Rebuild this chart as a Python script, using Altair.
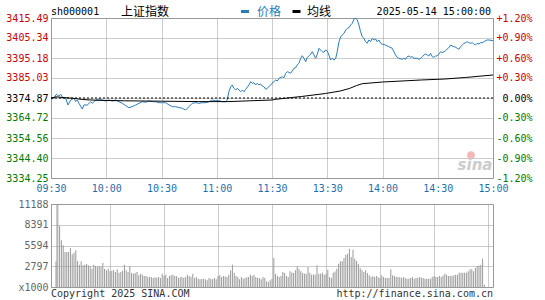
import altair as alt
import pandas as pd

BASE = 3374.87

time_labels = ["09:30", "10:00", "10:30", "11:00", "11:30", "13:30", "14:00", "14:30", "15:00"]
time_ticks = [0, 30, 60, 90, 120, 150, 180, 210, 240]
price_ticks = [3334.25, 3344.40, 3354.56, 3364.72, 3374.87, 3385.03, 3395.18, 3405.34, 3415.49]
vol_ticks = [0, 2797, 5594, 8391, 11188]

# price (minute index from 09:30, 120 = 11:30/13:00, 240 = 15:00)
price_minutes = [
    0.0, 1.6, 2.9, 4.3, 5.3, 6.5, 8.0, 9.2, 10.7, 12.5, 13.4, 14.3, 15.2, 17.0, 17.9, 19.7,
    21.6, 22.4, 24.3, 26.1, 27.9, 29.7, 31.5, 33.3, 35.1, 36.9, 38.7, 40.6, 42.3, 44.1, 46.0,
    47.8, 49.6, 51.4, 53.2, 55.0, 56.8, 58.6,
    60.4, 62.3, 64.1, 65.9, 67.7, 69.5, 71.3, 73.1, 74.9, 76.7, 78.6, 80.3, 82.1, 84.0, 85.8,
    87.6, 89.4, 91.2, 93.0, 94.8, 95.7, 96.6, 97.6, 98.4, 99.3, 100.3, 101.1, 102.1, 103.0,
    103.9, 104.8, 105.7, 107.5, 108.4, 109.3, 110.2, 111.1, 112.0, 112.9, 113.8, 114.7, 115.6,
    116.6, 117.4, 118.3, 119.3, 120.0,
    122.0, 122.9, 123.8, 125.6, 126.5, 127.4, 128.3, 129.2, 130.1, 131.0, 131.9, 132.8, 133.7,
    134.6, 135.6, 136.4, 137.4, 138.3, 139.1, 140.1, 141.0, 141.9, 142.8, 143.7, 144.6, 145.5,
    146.4, 147.3, 148.2, 149.1, 150.0, 150.9, 151.8, 152.7, 153.7, 154.6, 155.4, 156.4, 157.3,
    158.1, 159.1, 160.0, 160.9, 161.8, 162.7, 163.6, 164.5, 165.4, 166.3, 167.2, 168.1, 169.0,
    169.9, 170.8, 171.7, 172.6, 173.6, 174.4, 175.4, 176.3, 177.1, 178.1, 179.0, 179.9,
    181.7, 183.5, 185.3, 186.2, 187.1, 188.0, 188.9, 190.7, 191.6, 192.6, 193.4, 194.4, 195.3,
    196.1, 197.1, 198.9, 199.8, 200.7, 201.6, 202.5, 203.4, 204.3, 205.2, 206.1, 207.0, 207.9,
    208.8, 209.7, 210.6, 211.6, 212.4, 213.4, 214.3, 216.1, 217.0, 217.9, 218.8, 219.7, 220.6,
    221.5, 222.4, 223.3, 224.2, 225.1, 226.0, 226.9, 227.8, 228.7, 229.6, 230.5, 231.4, 232.4,
    233.3, 234.2, 235.1, 236.0, 236.9, 237.8, 240.0,
]
price_values = [
    3374.36, 3374.72, 3376.75, 3375.89, 3376.75, 3375.02, 3374.72, 3371.32, 3373.85, 3374.72,
    3372.99, 3373.85, 3372.18, 3369.28, 3371.32, 3371.32, 3372.99, 3372.18, 3373.85, 3374.36,
    3373.85, 3373.35, 3373.85, 3373.35, 3373.85, 3372.99, 3372.18, 3370.96, 3369.96, 3370.47,
    3371.32, 3372.18, 3372.99, 3372.69, 3373.35, 3372.99, 3372.99, 3372.48,
    3372.48, 3372.48, 3371.32, 3370.47, 3370.47, 3370.05, 3369.64, 3368.78, 3370.47, 3372.18,
    3372.48, 3372.18, 3372.48, 3372.48, 3372.99, 3373.85, 3373.50, 3373.50, 3372.99, 3372.99,
    3373.85, 3378.07, 3380.61, 3381.47, 3379.80, 3378.93, 3379.80, 3378.93, 3378.07, 3378.93,
    3378.07, 3379.29, 3381.47, 3383.15, 3382.33, 3382.64, 3381.47, 3382.33, 3381.47, 3381.98,
    3380.96, 3380.61, 3379.29, 3379.80, 3380.61, 3381.47, 3382.33,
    3384.01, 3383.50, 3384.87, 3385.69, 3385.18, 3387.41, 3388.22, 3387.92, 3387.41, 3388.58,
    3389.95, 3390.25, 3391.63, 3392.49, 3395.03, 3396.35, 3395.03, 3393.30, 3395.33, 3396.35,
    3397.06, 3398.38, 3396.70, 3395.03, 3397.06, 3400.10, 3399.24, 3398.38, 3398.07, 3399.24,
    3398.73, 3396.70, 3394.16, 3395.03, 3394.16, 3395.03, 3398.38, 3403.46, 3406.00, 3406.86,
    3407.72, 3409.40, 3410.26, 3410.56, 3411.94, 3412.80, 3414.98, 3415.34, 3414.47, 3411.94,
    3408.53, 3406.00, 3405.18, 3403.46, 3402.64, 3404.32, 3403.46, 3405.18, 3404.32, 3404.83,
    3403.46, 3404.32, 3402.64, 3402.14,
    3401.78, 3400.92, 3400.10, 3398.38, 3396.70, 3395.54, 3395.03, 3394.52, 3395.03, 3394.52,
    3395.84, 3396.20, 3395.54, 3395.84, 3395.03, 3395.03, 3394.52, 3395.03, 3395.84, 3396.70,
    3397.21, 3396.70, 3396.20, 3397.57, 3395.84, 3395.54, 3396.20, 3396.20, 3397.21, 3398.38,
    3397.89, 3398.38, 3398.89, 3400.61, 3401.78, 3401.27, 3400.92, 3400.61, 3400.10, 3399.60,
    3400.92, 3401.78, 3402.64, 3402.95, 3403.46, 3402.95, 3402.64, 3402.95, 3402.29, 3401.78,
    3402.64, 3402.29, 3402.95, 3402.95, 3403.46, 3403.96, 3404.32, 3404.32, 3403.96,
]

avg_minutes = [0, 3, 6, 12, 17, 25, 40, 60, 80, 96, 108, 120, 122, 136, 149, 157, 162, 166,
               169, 180, 201, 214, 225, 240]
avg_values = [3374.87, 3375.48, 3375.12, 3374.72, 3374.11, 3373.70, 3373.45, 3373.25, 3373.04,
              3373.04, 3373.45, 3373.85, 3374.21, 3375.63, 3377.15, 3378.42, 3379.69, 3381.22,
              3382.13, 3382.99, 3384.01, 3384.52, 3385.28, 3386.55]

# volume per minute (x1000), 09:30..11:30 (121) and 13:01..15:00 (120)
vol_am = [
    3460, 11100, 8220, 6290, 5620, 4720, 4720,
    4720, 5260, 4400, 4630, 4940, 3500, 3010, 3460, 2920, 3010, 3100, 2920, 2800,
    2470, 3010, 2830, 2700, 2830, 2700, 3230, 2470, 2250, 2470, 2110, 2200,
    2250, 2020, 2380, 1930, 2020, 2200, 3010, 2250, 2020, 2830, 1890, 1800, 1900,
    2020, 1570, 1800, 1660, 1480, 1480, 1350, 1350, 1300, 1210, 1300, 1250,
    1350, 1210, 1800, 1480, 1660, 1210, 1480, 1570, 1660, 1480, 1480, 1210, 1300,
    1350, 1210, 1350, 1660, 1480, 1350, 1800, 1210, 1350, 1120, 1030, 1080,
    1120, 1030, 900, 1210, 1120, 1030, 1210, 1030, 1480, 1570, 1350, 1480, 1400,
    1350, 1660, 2250, 3010, 1930, 1480, 1350, 1030, 1350, 1120, 1210, 1300,
    1350, 1660, 1480, 1660, 1350, 1210, 1210, 1030, 1350, 1210, 760, 670, 900,
    1120,
]
vol_pm = [
    3900, 1800, 1480, 1350, 1480, 2020, 1890, 1480, 1350, 2110, 1950,
    1890, 2250, 2790, 2470, 2110, 1890, 1800, 1800, 2700, 1930, 1660, 1700,
    1660, 2920, 1800, 1800, 1930, 1660, 1800, 2340, 1350, 1210, 1930, 2100,
    2470, 3150, 3460, 3460, 3910, 4360, 4490, 5170, 4040, 5030, 3820, 3500,
    3150, 2560, 2250, 2020, 2250, 1890, 1570, 1350, 1480, 1350, 1480, 1300,
    1210, 1570, 1350, 1210, 1210, 1210, 2380, 1570, 1480, 1350, 1350, 1300,
    1210, 1350, 1210, 1120, 1120, 1210, 1350, 1120, 1210, 1210, 1350, 1250,
    1210, 1120, 1120, 1120, 1120, 1350, 1480, 1350, 1350, 1480, 1350, 1500,
    1800, 1660, 1480, 1480, 1480, 1570, 1660, 1660, 1930, 1930, 1930, 1930,
    1930, 2110, 2380, 2380, 2110, 2560, 2830, 2900,
    3010, 3820, 300, 0, 0,
]

RED = "#cc0000"
GREEN = "#007a00"
BLUE_LINE = "#2c7bb8"
BLUE_TEXT = "#1f6fae"
GRID = "#999999"
MONO = "DejaVu Sans Mono"
CJK = "Noto Sans CJK SC"

W, H1, H2 = 442, 160, 83

df_price = pd.DataFrame({"minute": price_minutes, "price": price_values})
df_avg = pd.DataFrame({"minute": avg_minutes, "price": avg_values})
df_vol = pd.DataFrame({"minute": list(range(241)), "volume": vol_am + vol_pm})

xscale = alt.Scale(domain=[0, 240], nice=False, zero=False)
yscale = alt.Scale(domain=[price_ticks[0], price_ticks[-1]], nice=False, zero=False)

time_expr = "[" + ",".join("'%s'" % t for t in time_labels) + "][round(datum.value / 30)]"
price_color = {
    "condition": [
        {"test": "datum.value > %.3f" % (BASE + 0.01), "value": RED},
        {"test": "datum.value < %.3f" % (BASE - 0.01), "value": GREEN},
    ],
    "value": "black",
}
pct_expr = (
    "abs(datum.value - %s) < 0.01 ? '0.00%%' : "
    "((datum.value > %s ? '+' : '-') + format(abs(datum.value / %s - 1) * 100, '.2f') + '%%')"
) % (BASE, BASE, BASE)

x_axis_top = alt.Axis(values=time_ticks, labelExpr=time_expr, grid=True, gridDash=[1, 1],
                      gridColor=GRID, ticks=False, domain=False, labelColor=BLUE_TEXT,
                      labelPadding=5, labelFlush=False, labelOverlap=False, labelBound=False,
                      title=None)
left_axis = alt.Axis(values=price_ticks, labelExpr="format(datum.value, '.2f')",
                     labelColor=price_color, grid=True, gridDash=[1, 1], gridColor=GRID,
                     ticks=False, domain=False, labelPadding=3, minExtent=46, maxExtent=46,
                     title=None)
right_axis = alt.Axis(orient="right", values=price_ticks, labelExpr=pct_expr,
                      labelColor=price_color, grid=False, ticks=False, domain=False,
                      labelAlign="right", labelPadding=39, title=None)

price_line = alt.Chart(df_price).mark_line(color=BLUE_LINE, strokeWidth=1).encode(
    x=alt.X("minute:Q", scale=xscale, axis=x_axis_top),
    y=alt.Y("price:Q", scale=yscale, axis=left_axis),
)
avg_line = alt.Chart(df_avg).mark_line(color="black", strokeWidth=1).encode(
    x=alt.X("minute:Q", scale=xscale, axis=x_axis_top),
    y=alt.Y("price:Q", scale=yscale, axis=None),
)
zero_rule = alt.Chart(pd.DataFrame({"price": [BASE]})).mark_rule(
    color="black", strokeDash=[2, 2], strokeWidth=1
).encode(y=alt.Y("price:Q", scale=yscale, axis=None))
right_layer = alt.Chart(df_price).mark_line(opacity=0).encode(
    x=alt.X("minute:Q", scale=xscale, axis=x_axis_top),
    y=alt.Y("price:Q", scale=yscale, axis=right_axis),
)


def label(text, x, y, size=10, font=MONO, color="black", align="left", **kw):
    return alt.Chart(pd.DataFrame({"t": [text]})).mark_text(
        font=font, fontSize=size, color=color, align=align, baseline="middle", **kw
    ).encode(text="t:N", x=alt.value(x), y=alt.value(y))


header = [
    label("sh000001", 0, -6.5),
    label("上证指数", 70, -6.5, size=12, font=CJK),
    label("价格", 206, -6.5, size=12, font=CJK, color=BLUE_LINE),
    label("均线", 256, -6.5, size=12, font=CJK),
    label("2025-05-14 15:00:00", 440, -6.5, align="right"),
]
legend_marks = [
    alt.Chart(pd.DataFrame({"s": ["价格"]})).mark_rule(color=BLUE_LINE, strokeWidth=3).encode(
        x=alt.value(190), x2=alt.value(198), y=alt.value(-6.5)),
    alt.Chart(pd.DataFrame({"s": ["均线"]})).mark_rule(color="black", strokeWidth=3).encode(
        x=alt.value(241.5), x2=alt.value(249.5), y=alt.value(-6.5)),
]
watermark = [
    alt.Chart(pd.DataFrame({"s": ["logo"]})).mark_point(
        filled=True, color="#f2a5a5", size=60, opacity=0.8
    ).encode(x=alt.value(420), y=alt.value(137)),
    label("sina", 424, 147, size=15, font="DejaVu Sans", color="#cccccc", align="center",
          fontStyle="italic", fontWeight="bold"),
]

top = alt.layer(
    price_line, right_layer, zero_rule, avg_line, *legend_marks, *header, *watermark
).resolve_axis(y="independent").properties(width=W, height=H1)

vol_bars = alt.Chart(df_vol).mark_bar(size=1, color="#999999").encode(
    x=alt.X("minute:Q", scale=xscale,
            axis=alt.Axis(values=time_ticks, labels=False, grid=True, gridDash=[1, 1],
                          gridColor=GRID, ticks=False, domain=False, title=None)),
    y=alt.Y("volume:Q", scale=alt.Scale(domain=[0, vol_ticks[-1]], nice=False),
            axis=alt.Axis(values=vol_ticks,
                          labelExpr="datum.value == 0 ? 'x1000' : format(datum.value, 'd')",
                          labelColor="#666666", grid=True, gridDash=[1, 1], gridColor=GRID,
                          ticks=False, domain=False, labelPadding=3, minExtent=46,
                          maxExtent=46, title=None)),
)
footer = [
    label("Copyright 2025 SINA.COM", 0, 90, color="#333333"),
    label("http://finance.sina.com.cn", 442, 90, color="#333333", align="right"),
]
bottom = alt.layer(vol_bars, *footer).properties(width=W, height=H2)

chart = alt.vconcat(top, bottom, spacing=4).properties(
    padding={"left": 4, "top": 5, "right": 0, "bottom": 0},
    background="white",
).configure_view(stroke="#999999", strokeWidth=1).configure_axis(
    labelFont=MONO, labelFontSize=10
)

chart.save("out.html", embed_options={"renderer": "svg", "actions": False})
